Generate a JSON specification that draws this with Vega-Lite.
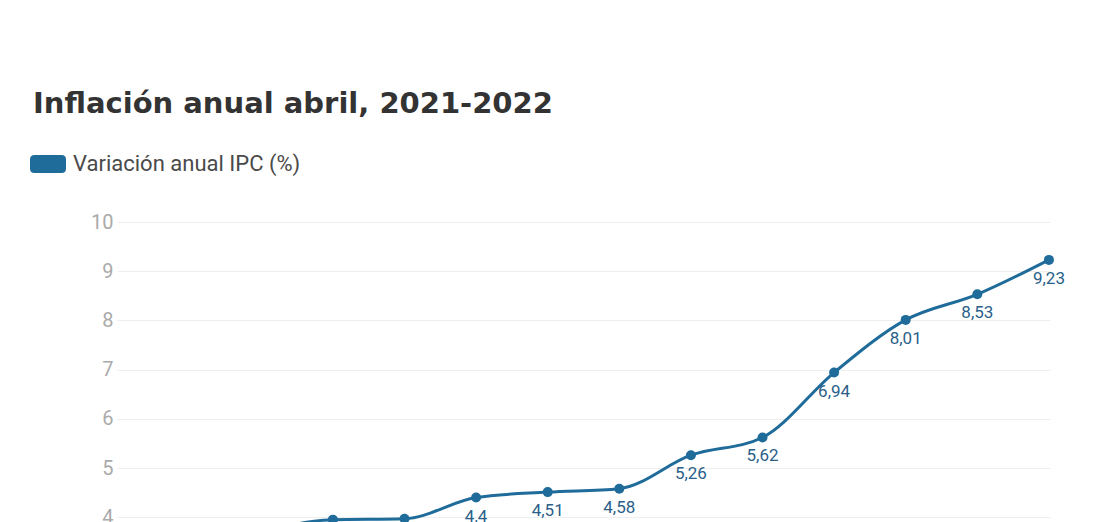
{
  "$schema": "https://vega.github.io/schema/vega-lite/v6.json",
  "autosize": {"type": "none"},
  "padding": {"left": 117, "top": 222, "right": 48, "bottom": 0},
  "width": 933,
  "height": 492,
  "background": "#ffffff",
  "config": {
    "view": {"stroke": null},
    "locale": {"number": {"decimal": ",", "thousands": ".", "grouping": [3], "currency": ["", ""]}}
  },
  "title": {
    "text": "Inflación anual abril, 2021-2022",
    "anchor": "start",
    "frame": "group",
    "font": "DejaVu Sans",
    "fontSize": 29,
    "fontWeight": 700,
    "color": "#333333",
    "baseline": "alphabetic",
    "dx": -84,
    "offset": 4
  },
  "data": {
    "values": [
      {"mes": "mar 2021", "ipc": 1.51},
      {"mes": "abr 2021", "ipc": 1.95},
      {"mes": "may 2021", "ipc": 3.63},
      {"mes": "jun 2021", "ipc": 3.95},
      {"mes": "jul 2021", "ipc": 3.97},
      {"mes": "ago 2021", "ipc": 4.4},
      {"mes": "sep 2021", "ipc": 4.51},
      {"mes": "oct 2021", "ipc": 4.58},
      {"mes": "nov 2021", "ipc": 5.26},
      {"mes": "dic 2021", "ipc": 5.62},
      {"mes": "ene 2022", "ipc": 6.94},
      {"mes": "feb 2022", "ipc": 8.01},
      {"mes": "mar 2022", "ipc": 8.53},
      {"mes": "abr 2022", "ipc": 9.23}
    ]
  },
  "encoding": {
    "x": {
      "field": "mes",
      "type": "ordinal",
      "sort": null,
      "scale": {"type": "point", "padding": 0.015},
      "axis": {"title": null, "labelAngle": 0, "ticks": false, "domain": false, "labelColor": "#999999", "labelFont": "Roboto", "labelFontSize": 16}
    },
    "y": {
      "field": "ipc",
      "type": "quantitative",
      "scale": {"domain": [0, 10]},
      "axis": {
        "title": null,
        "values": [0, 1, 2, 3, 4, 5, 6, 7, 8, 9, 10],
        "ticks": false,
        "domain": false,
        "gridColor": "#eeeeee",
        "gridWidth": 1,
        "labelColor": "#aaaaaa",
        "labelFont": "Roboto",
        "labelFontSize": 20,
        "labelPadding": 4
      }
    }
  },
  "layer": [
    {
      "mark": {"type": "line", "interpolate": "monotone", "color": "#1f6b9a", "strokeWidth": 3}
    },
    {
      "mark": {"type": "point", "filled": true, "size": 100, "opacity": 1},
      "encoding": {
        "color": {
          "datum": "Variación anual IPC (%)",
          "type": "nominal",
          "scale": {"range": ["#1f6b9a"]},
          "legend": {
            "title": null,
            "orient": "none",
            "legendX": -87,
            "legendY": -76,
            "padding": 0,
            "symbolType": "M-0.75,-0.5L0.75,-0.5Q1,-0.5,1,-0.25L1,0.25Q1,0.5,0.75,0.5L-0.75,0.5Q-1,0.5,-1,0.25L-1,-0.25Q-1,-0.5,-0.75,-0.5Z",
            "symbolSize": 1296,
            "symbolOpacity": 1,
            "symbolStrokeWidth": 0,
            "labelFont": "Roboto",
            "labelFontSize": 22,
            "labelColor": "#4a4a4a",
            "labelOffset": 7,
            "labelLimit": 500
          }
        }
      }
    },
    {
      "mark": {"type": "text", "dy": 19, "baseline": "middle", "align": "center", "font": "Roboto", "fontSize": 17, "color": "#2a6089"},
      "encoding": {
        "text": {"field": "ipc", "type": "quantitative", "format": "~g"}
      }
    }
  ]
}
